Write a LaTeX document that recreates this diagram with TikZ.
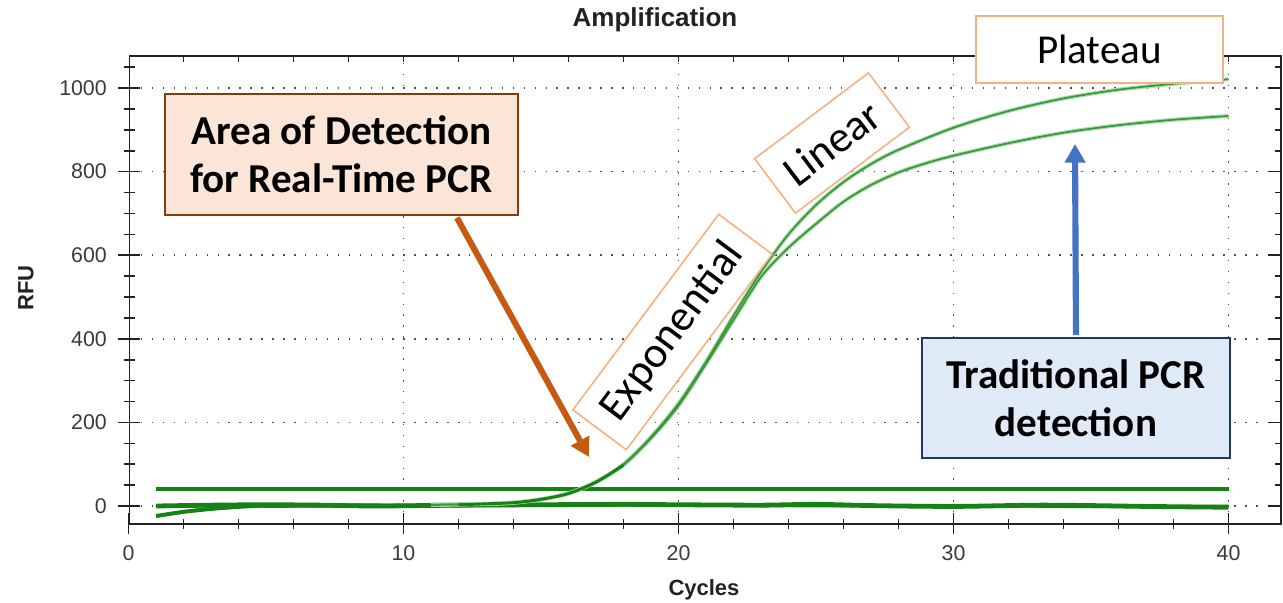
\documentclass[tikz,border=0pt]{standalone}
\usepackage{fontspec}
\setmainfont{Carlito}
\newfontfamily\arialf{Liberation Sans}
\usetikzlibrary{arrows.meta}
\definecolor{areafill}{HTML}{FBE5D6}
\definecolor{areadraw}{HTML}{843C0C}
\definecolor{orgarrow}{HTML}{C55A11}
\definecolor{tradfill}{HTML}{DEEBF7}
\definecolor{traddraw}{HTML}{1F3864}
\definecolor{bluearrow}{HTML}{4472C4}
\definecolor{phasedraw}{HTML}{F4B183}
\definecolor{darkgreen}{RGB}{22,130,22}
\definecolor{curvecore}{RGB}{60,150,60}
\definecolor{curvehalo}{RGB}{170,220,170}
\definecolor{gridc}{HTML}{505050}
\definecolor{axisc}{HTML}{222222}
\definecolor{labelc}{HTML}{3A3A3A}
\tikzset{
  gridline/.style={gridc, line width=1.1pt, dash pattern=on 1.1pt off 7.1pt},
  axisline/.style={axisc, line width=1.4pt},
  tickline/.style={axisc, line width=1.2pt},
  ticklabel/.style={inner sep=0pt, text=labelc, font=\arialf\fontsize{16}{18}\selectfont},
  axistitle/.style={inner sep=0pt, text=axisc, font=\arialf\bfseries\fontsize{16.5}{18}\selectfont},
  callout/.style={align=center, inner sep=0pt, line width=2.2pt, font=\bfseries\fontsize{30.8}{36}\selectfont},
  phasebox/.style={draw=phasedraw, fill=white, line width=1.2pt, inner sep=0pt, font=\fontsize{33}{36}\selectfont},
  halo/.style={curvehalo, line width=3pt},
  core/.style={curvecore, line width=1.3pt},
  thick green/.style={darkgreen, line width=3pt},
  bigarrow/.style={line width=4.6pt, -{Triangle[length=14pt,width=15pt]}}
}
\begin{document}
\begin{tikzpicture}[x=0.75pt,y=-0.75pt]
\useasboundingbox (0,0) rectangle (1283,603);
% grid
\foreach \r in {0,200,...,1000}{
  \draw[gridline] (141,{506-0.418*\r}) -- (1267,{506-0.418*\r});
}
\foreach \c in {10,20,30,40}{
  \draw[gridline] ({128.5+27.5*\c},63) -- ({128.5+27.5*\c},512);
}
% frame
\draw[axisline] (129.5,56) rectangle (1281,524);
% ticks
\foreach \r in {0,50,...,1050}{
  \draw[tickline] (124,{506-0.418*\r}) -- (135,{506-0.418*\r});
  \draw[tickline] (1275,{506-0.418*\r}) -- (1281,{506-0.418*\r});
}
\foreach \r in {0,200,...,1000}{
  \draw[tickline] (118,{506-0.418*\r}) -- (140,{506-0.418*\r});
  \draw[tickline] (1268,{506-0.418*\r}) -- (1281,{506-0.418*\r});
  \node[ticklabel, anchor=east] at (107,{506-0.418*\r}) {\r};
}
\foreach \c in {2,4,...,40}{
  \draw[tickline] ({128.5+27.5*\c},519) -- ({128.5+27.5*\c},529);
  \draw[tickline] ({128.5+27.5*\c},56) -- ({128.5+27.5*\c},62);
}
\foreach \c in {0,10,20,30,40}{
  \draw[tickline] ({128.5+27.5*\c},513) -- ({128.5+27.5*\c},534);
  \node[ticklabel] at ({128.5+27.5*\c},553) {\c};
}
% titles
\node[axistitle, font=\arialf\bfseries\fontsize{19.5}{21}\selectfont] (title) at (655,20) {Amplification};
\node[axistitle] (xtitle) at (704,590) {Cycles};
\node[axistitle, rotate=90] (ytitle) at (26,288) {RFU};
% data
\begin{scope}[shift={(128.5,506)}, x=20.625pt, y=0.3135pt]
  \draw[thick green] (1,40) -- (40,40);
  \draw[darkgreen, line width=3pt] plot[smooth] coordinates {(1,-24) (2,-14) (3,-7) (4,-2) (5,1) (7,2) (10,1) (13,2)};
  \draw[darkgreen, line width=3.6pt] plot[smooth] coordinates {(1,0) (3,2) (5,3) (7,2) (9,0) (12,2) (15,3) (18,4) (20,3) (23,2) (25,4) (27,1) (30,-1) (33,2) (35,1) (37,-1) (40,-3)};
  \draw[darkgreen, line width=2pt] plot[smooth] coordinates {(1,1) (5,-1) (10,0) (15,1) (20,2) (25,0) (30,1) (35,-2) (40,0)};
  \foreach \s in {halo,core}{
  \draw[\s] plot[smooth] coordinates {(11,3) (13,5) (14,8) (15,16) (16,30) (17,58) (18,100) (19,165) (20,245) (21,345) (22,455) (23,560) (24,650) (25,720) (26,775) (27,818) (28,852) (30,905) (32,945) (34,975) (36,996) (38,1010) (40,1021)};
  \draw[\s] plot[smooth] coordinates {(11,3) (13,5) (14,8) (15,16) (16,30) (17,57) (18,98) (19,162) (20,240) (21,340) (22,445) (23,548) (24,618) (25,675) (26,728) (27,768) (28,798) (29,820) (30,838) (32,868) (34,893) (36,911) (38,924) (40,933)};
  }
  \draw[darkgreen, line width=2.2pt] plot[smooth] coordinates {(12,3) (14,8) (15,16) (16,30) (17,57) (18,98)};
\end{scope}
% phase boxes
\node[phasebox, font=\fontsize{30.8}{36}\selectfont, minimum width=185pt, minimum height=50pt] (plateau) at (1099.5,49.5) {Plateau};
\node[phasebox, minimum width=107pt, minimum height=51pt, rotate=37] (linear) at (832,143) {Linear};
\node[phasebox, minimum width=183pt, minimum height=50pt, rotate=53.3] (expo) at (672.5,332) {Exponential};
% callouts
\node[callout, draw=areadraw, fill=areafill, minimum width=264.75pt, minimum height=90.75pt] (area) at (341.5,154.5) {Area of Detection\\for Real-Time PCR};
\node[callout, draw=traddraw, fill=tradfill, minimum width=231pt, minimum height=90pt] (trad) at (1076,398) {Traditional PCR\\detection};
\coordinate (tipA) at (589,457);
\coordinate (tipB) at (1075,144);
\draw[bigarrow, orgarrow] ([xshift=86.6pt,yshift=-1pt]area.south) -- (tipA);
\draw[bigarrow, bluearrow] ([yshift=1pt]trad.north) -- (tipB);
\end{tikzpicture}
\end{document}
